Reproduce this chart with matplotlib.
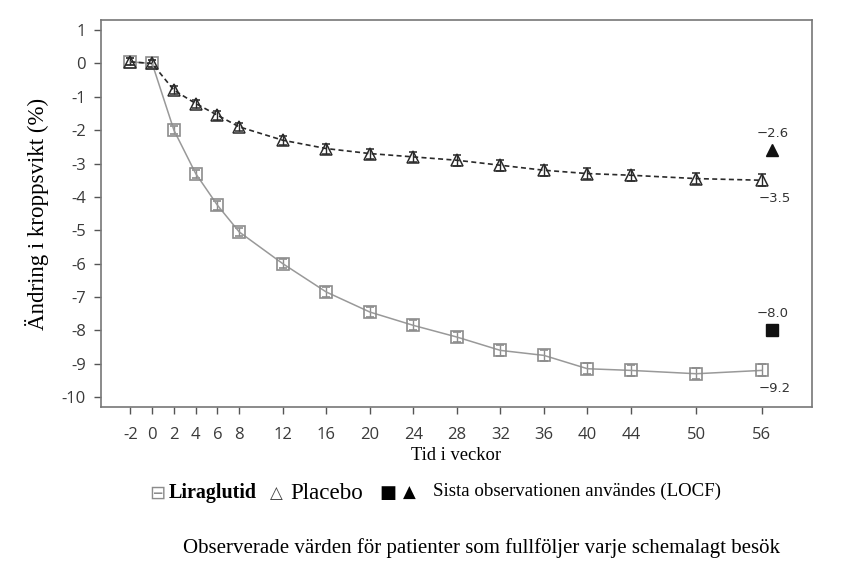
import matplotlib
matplotlib.use("Agg")
import matplotlib.pyplot as plt
import numpy as np

plt.rcParams['axes.unicode_minus'] = False

# Veckor och medelvärden
weeks = [-2, 0, 2, 4, 6, 8, 12, 16, 20, 24, 28, 32, 36, 40, 44, 50, 56]
lira = [0.05, 0.0, -2.0, -3.3, -4.25, -5.05, -6.0, -6.85, -7.45, -7.85,
        -8.2, -8.6, -8.75, -9.15, -9.2, -9.3, -9.2]
placebo = [0.05, 0.0, -0.8, -1.2, -1.55, -1.9, -2.3, -2.55, -2.7, -2.8,
           -2.9, -3.05, -3.2, -3.3, -3.35, -3.45, -3.5]
lira_err = [0.1, 0.1, 0.12, 0.12, 0.13, 0.13, 0.14, 0.15, 0.15, 0.15,
            0.16, 0.16, 0.16, 0.17, 0.17, 0.17, 0.18]
placebo_err = [0.1, 0.1, 0.12, 0.12, 0.13, 0.13, 0.14, 0.15, 0.15, 0.15,
               0.16, 0.16, 0.16, 0.17, 0.17, 0.17, 0.18]
locf_week = 57
locf_lira = -8.0
locf_placebo = -2.6

yticks = list(range(1, -11, -1))

fig = plt.figure(figsize=(8.49, 5.75), dpi=100)
ax = fig.add_axes([0.119, 0.292, 0.837, 0.673])

gray = '#8c8c8c'
dark = '#2a2a2a'

ax.errorbar(weeks, lira, yerr=lira_err, color='#999999', lw=1.1, marker='s',
            ms=9, mfc='none', mec=gray, mew=1.2, ecolor=gray,
            elinewidth=1, capsize=3, zorder=3)
ax.errorbar(weeks, placebo, yerr=placebo_err, color=dark, lw=1.2,
            ls=(0, (3, 2)), marker='^', ms=9, mfc='none', mec=dark,
            mew=1.1, ecolor=dark, elinewidth=1, capsize=3, zorder=3)

ax.plot([locf_week], [locf_lira], marker='s', ms=9, color='#111111', ls='none')
ax.plot([locf_week], [locf_placebo], marker='^', ms=9, color='#111111', ls='none')

lab = dict(fontsize=9.5, color='#333333', ha='center', family='DejaVu Sans')
ax.text(locf_week, locf_placebo + 0.3, '\u22122.6', va='bottom', **lab)
ax.text(locf_week, locf_lira + 0.3, '\u22128.0', va='bottom', **lab)
ax.text(weeks[-1] + 1.2, placebo[-1] - 0.35, '\u22123.5', va='top', **lab)
ax.text(weeks[-1] + 1.2, lira[-1] - 0.35, '\u22129.2', va='top', **lab)

ax.set_xlim(-4.7, 60.6)
ax.set_ylim(-10.3, 1.3)
ax.set_xticks(weeks)
ax.set_yticks(yticks)
ax.tick_params(direction='out', length=5, width=1, color='#555555',
               labelsize=12, labelcolor='#3a3a3a')
ax.tick_params(axis='x', pad=9)
ax.tick_params(axis='y', pad=6)
for t in ax.get_xticklabels() + ax.get_yticklabels():
    t.set_family('Open Sans')
for s in ax.spines.values():
    s.set_color('#777777')
    s.set_linewidth(1.2)

ax.set_xlabel('Tid i veckor', family='Liberation Serif', fontsize=13.3,
              labelpad=3)
ax.set_ylabel('Ändring i kroppsvikt (%)', family='Liberation Serif',
              fontsize=16.5, labelpad=9)

# Teckenförklaring under diagrammet
ly = 0.142
fig.text(0.185, ly, '\u229f', fontsize=14, color=gray, ha='center',
         va='center', family='DejaVu Sans')
fig.text(0.199, ly, 'Liraglutid', fontsize=14.4, fontweight='bold',
         family='Liberation Serif', va='center')
fig.text(0.326, ly, '\u25b3', fontsize=12, color='#444444', ha='center',
         va='center', family='DejaVu Sans')
fig.text(0.342, ly, 'Placebo', fontsize=16.6, family='Liberation Serif',
         va='center')
fig.text(0.457, ly, '\u25a0', fontsize=13, ha='center', va='center',
         family='DejaVu Sans')
fig.text(0.482, ly, '\u25b2', fontsize=12, ha='center', va='center',
         family='DejaVu Sans')
fig.text(0.510, ly + 0.003, 'Sista observationen användes (LOCF)',
         fontsize=13.6, family='Liberation Serif', va='center')
fig.text(0.567, 0.047, 'Observerade värden för patienter som fullföljer varje schemalagt besök',
         fontsize=15, family='Liberation Serif', ha='center', va='center')

fig.savefig('out.png', dpi=100)
